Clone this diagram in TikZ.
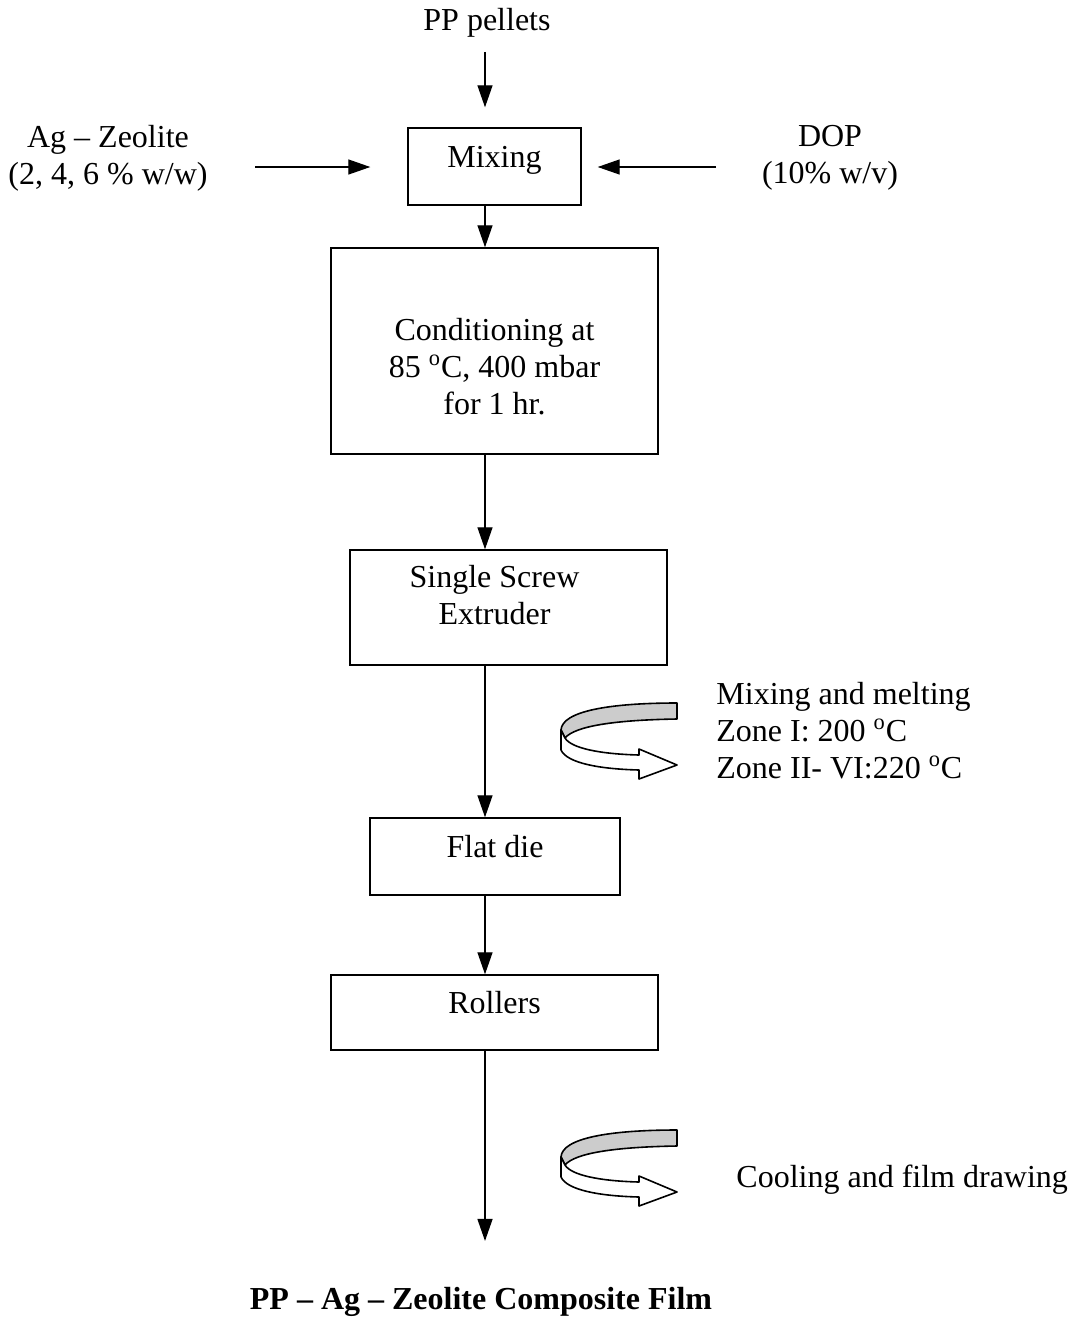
\documentclass[tikz,border=0pt]{standalone}
\usepackage{fontspec}
\setmainfont{Liberation Serif}
\usetikzlibrary{arrows.meta, positioning}

\begin{document}
\begin{tikzpicture}[
    x=0.5pt, y=-0.5pt,
    font=\fontsize{16}{18.5}\selectfont,
    stagebox/.style={draw, line width=0.7pt, align=center},
    plain/.style={align=center, inner sep=0pt},
    flow/.style={-{Triangle[length=11pt, width=7.5pt]}, line width=0.65pt},
    ribbon/.pic={
        \filldraw[fill=gray!40, line width=0.8pt, line join=round]
            (0,-62) -- (0,-46) .. controls (-62,-45) and (-102,-39) .. (-112,-27)
            -- (-116,-35) .. controls (-115,-54) and (-67,-62) .. (0,-62) -- cycle;
        \filldraw[fill=white, line width=0.8pt, line join=round]
            (-116,-35) -- (-116,-15) .. controls (-110,-2) and (-78,4) .. (-38,5)
            -- (-38,14) -- (0,0) -- (-38,-16) -- (-38,-10)
            .. controls (-78,-11) and (-106,-17) .. (-112,-27) -- cycle;
    }
]
\useasboundingbox (0,0) rectangle (1076,1328);

% Inputs
\node[plain] (pellets) at (487,23) {PP pellets};
\node[plain] (zeolite) at (108,158) {Ag -- Zeolite\\(2, 4, 6 \% w/w)};
\node[plain] (dop) at (830,158) {DOP\\(10\% w/v)};

% Process stages
\node[stagebox, minimum width=86.5pt, minimum height=38.5pt, text depth=10pt] (mixing) at (494.5,166.5) {Mixing};
\node[stagebox, minimum width=163.5pt, minimum height=103pt, text height=64pt] (conditioning) at (494.5,351)
    {Conditioning at\\85 \textsuperscript{o}C, 400 mbar\\for 1 hr.};
\node[stagebox, minimum width=158.5pt, minimum height=57.5pt, text depth=12.5pt] (extruder) at (508.5,607.5)
    {Single Screw\hspace*{14pt}\\Extruder\hspace*{14pt}};
\node[stagebox, minimum width=125pt, minimum height=38.5pt, text depth=10pt] (flatdie) at (495,856.5) {Flat die};
\node[stagebox, minimum width=163.5pt, minimum height=37.5pt, text depth=10pt] (rollers) at (494.5,1012.5) {Rollers};
\node[plain, font=\fontsize{16}{18.5}\selectfont\bfseries] (film) at (481,1302)
    {PP -- Ag -- Zeolite Composite Film};

% Notes
\node[plain, align=left, anchor=west] (meltnote) at (716,731)
    {Mixing and melting\\Zone I: 200 \textsuperscript{o}C\\Zone II- VI:220 \textsuperscript{o}C};
\node[plain, anchor=west] (coolnote) at (736,1180) {Cooling and film drawing};

% Arrows
\coordinate (axis) at (485,0);
\coordinate (zeolitein) at (255,167);
\coordinate (dopin) at (716,167);
\draw[flow, shorten <=7pt, shorten >=10pt] (pellets.south -| axis) -- (mixing.north -| axis);
\draw[flow, shorten >=18.5pt] (zeolitein) -- (zeolitein -| mixing.west);
\draw[flow, shorten >=8pt] (dopin) -- (dopin -| mixing.east);
\draw[flow] (mixing.south -| axis) -- (conditioning.north -| axis);
\draw[flow] (conditioning.south -| axis) -- (extruder.north -| axis);
\draw[flow] (extruder.south -| axis) -- (flatdie.north -| axis);
\draw[flow] (flatdie.south -| axis) -- (rollers.north -| axis);
\draw[flow, shorten >=23pt] (rollers.south -| axis) -- (film.north -| axis);

% Turning arrows
\pic at (677,765) {ribbon};
\pic at (677,1192) {ribbon};

\end{tikzpicture}
\end{document}
